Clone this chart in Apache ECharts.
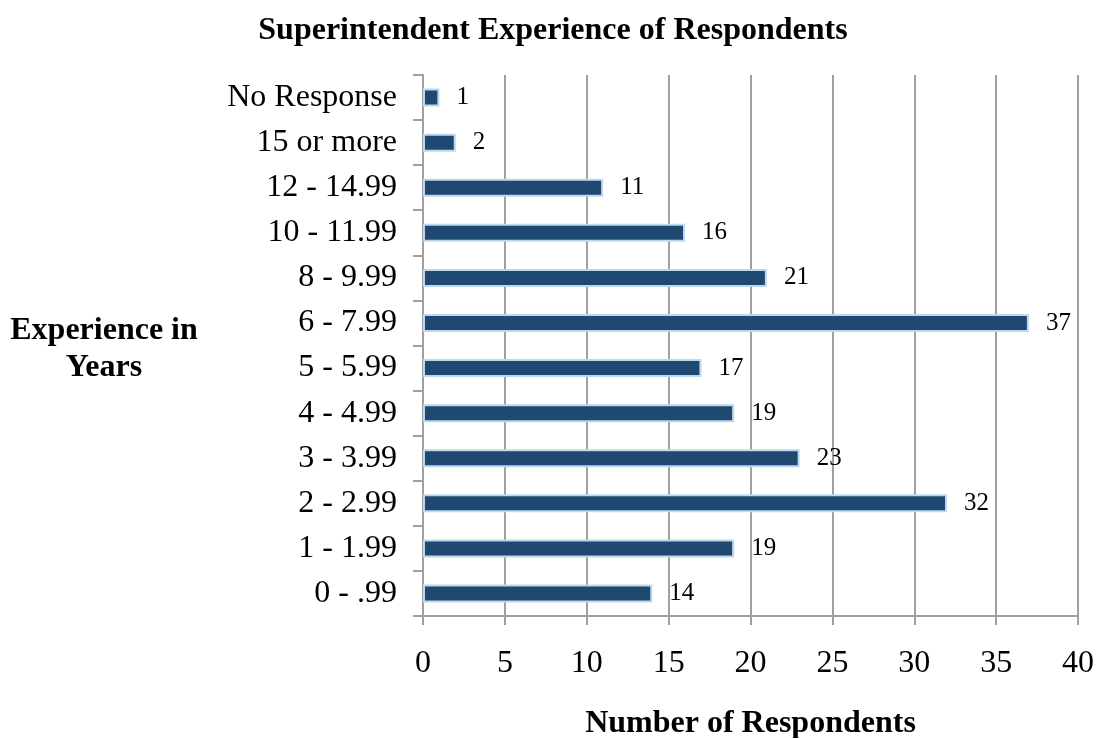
<!DOCTYPE html>
<html>
<head>
<meta charset="utf-8">
<script src="https://cdn.jsdelivr.net/npm/echarts@6/dist/echarts.min.js"></script>
<style>
  html, body { margin: 0; padding: 0; background: #fff; }
  #chart { width: 1099px; height: 738px; }
</style>
</head>
<body>
<div id="chart"></div>
<script>
    // categories bottom to top, as in the picture
    var categories = ['0 - .99', '1 - 1.99', '2 - 2.99', '3 - 3.99', '4 - 4.99', '5 - 5.99',
        '6 - 7.99', '8 - 9.99', '10 - 11.99', '12 - 14.99', '15 or more', 'No Response'];
    var respondents = [14, 19, 32, 23, 19, 17, 37, 21, 16, 11, 2, 1];
    var xTicks = [0, 5, 10, 15, 20, 25, 30, 35, 40];

    var serif = '"Liberation Serif", "DejaVu Serif", serif';
    var gray = '#a0a0a0';

    var myChart = echarts.init(document.getElementById('chart'));
    var option = {
        animation: false,
        title: {
            text: 'Superintendent Experience of Respondents',
            left: 548,
            textAlign: 'center',
            top: 10,
            textStyle: { fontFamily: serif, fontWeight: 'bold', fontSize: 32, color: '#000' }
        },
        grid: { left: 423, right: 21, top: 75, bottom: 122, containLabel: false, outerBoundsMode: 'none' },
        xAxis: {
            type: 'value',
            min: xTicks[0],
            max: xTicks[xTicks.length - 1],
            interval: 5,
            name: 'Number of Respondents',
            nameLocation: 'middle',
            nameGap: 92,
            nameTextStyle: { fontFamily: serif, fontWeight: 'bold', fontSize: 32, color: '#000' },
            axisLine: { show: true, lineStyle: { color: gray, width: 2 } },
            axisTick: { show: true, length: 9, lineStyle: { color: gray, width: 2 } },
            axisLabel: { margin: 32, fontFamily: serif, fontSize: 32, color: '#000' },
            splitLine: { show: true, lineStyle: { color: gray, width: 2 } }
        },
        yAxis: {
            type: 'category',
            data: categories,
            axisLine: { show: true, lineStyle: { color: gray, width: 2 } },
            axisTick: { show: true, length: 10, lineStyle: { color: gray, width: 2 } },
            axisLabel: { margin: 26, fontFamily: serif, fontSize: 32, color: '#000' },
            splitLine: { show: false }
        },
        graphic: [{
            type: 'text',
            x: 104,
            y: 312,
            style: {
                text: 'Experience in\nYears',
                textAlign: 'center',
                textVerticalAlign: 'top',
                fontFamily: serif,
                fontWeight: 'bold',
                fontSize: 32,
                lineHeight: 37,
                fill: '#000'
            }
        }],
        series: [{
            type: 'bar',
            data: respondents,
            barWidth: 18,
            itemStyle: { color: '#1f4970', borderColor: '#bdd7ee', borderWidth: 2 },
            label: {
                show: true,
                position: 'right',
                distance: 17,
                fontFamily: serif,
                fontSize: 25,
                color: '#000'
            }
        }]
    };
    myChart.setOption(option);
</script>
</body>
</html>
